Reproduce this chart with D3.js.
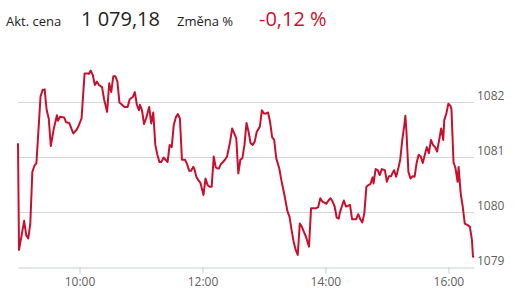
<!DOCTYPE html>
<html>
<head>
<meta charset="utf-8">
<script src="https://cdn.jsdelivr.net/npm/d3@7"></script>
<style>
  body { margin: 0; background: #fff; }
  svg { display: block; font-family: "Open Sans", sans-serif; }
</style>
</head>
<body>
<svg id="chart"></svg>
<script>
// intraday price

var times = ["9:00","9:01","9:06","9:08","9:10","9:12","9:14","9:16","9:18","9:22","9:24","9:26","9:28","9:30","9:32","9:35","9:38","9:39","9:41","9:45","9:47","9:50","9:52","9:54","9:57","9:59",
  "10:02","10:05","10:08","10:09","10:11","10:13","10:15","10:17","10:19","10:22","10:24","10:27","10:29","10:31","10:33","10:35","10:37","10:39","10:41","10:44","10:47","10:49","10:52","10:54","10:56","10:58","10:59",
  "11:01","11:03","11:05","11:08","11:10","11:12","11:14","11:16","11:18","11:20","11:22","11:24","11:26","11:28","11:30","11:32","11:34","11:36","11:38","11:40","11:43","11:45","11:47","11:49","11:51","11:52","11:54","11:56","11:58",
  "12:01","12:03","12:05","12:07","12:09","12:11","12:13","12:15","12:16","12:18","12:20","12:22","12:24","12:27","12:29","12:31","12:33","12:35","12:37","12:39","12:41","12:43","12:45","12:47","12:49","12:51","12:53","12:55","12:56","12:58",
  "13:00","13:02","13:04","13:06","13:08","13:10","13:12","13:15","13:17","13:20","13:23","13:25","13:27","13:29","13:31","13:33","13:35","13:37","13:39","13:41","13:43","13:44","13:46","13:48","13:51","13:53","13:55","13:57","13:59",
  "14:01","14:03","14:05","14:07","14:09","14:11","14:13","14:14","14:16","14:18","14:20","14:22","14:24","14:26","14:28","14:30","14:32","14:34","14:36","14:38","14:40","14:42","14:44","14:46","14:47","14:49","14:51","14:53","14:55","14:58",
  "15:00","15:02","15:04","15:05","15:07","15:09","15:11","15:13","15:15","15:17","15:18","15:19","15:21","15:23","15:25","15:27","15:29","15:31","15:33","15:35","15:37","15:39","15:41","15:43","15:45","15:47","15:49","15:51","15:53","15:55","15:56","15:58",
  "16:00","16:02","16:03","16:05","16:07","16:09","16:10","16:12","16:14","16:16","16:19","16:21","16:23","16:24","16:25"];

var prices = [1081.25,1079.31,1079.84,1079.58,1079.52,1079.79,1080.73,1080.84,1080.89,1082.10,1082.22,1082.23,1081.85,1081.70,1081.20,1081.52,1081.76,1081.66,1081.73,1081.72,1081.63,1081.62,1081.52,1081.43,1081.49,1081.56,
  1081.70,1082.52,1082.52,1082.51,1082.57,1082.49,1082.31,1082.37,1082.31,1082.27,1082.05,1081.82,1082.34,1082.18,1082.47,1082.47,1082.37,1081.99,1081.96,1081.91,1081.91,1082.05,1082.09,1082.18,1081.95,1081.85,1081.95,
  1081.85,1081.60,1081.70,1081.91,1081.61,1081.81,1081.22,1081.04,1080.91,1080.91,1080.99,1080.95,1080.91,1081.22,1081.18,1081.58,1081.72,1081.78,1081.70,1080.95,1080.95,1080.87,1080.75,1080.75,1080.82,1080.79,1080.64,1080.58,1080.53,
  1080.31,1080.61,1080.49,1080.46,1080.46,1081.01,1080.81,1080.79,1080.79,1080.87,1080.91,1080.95,1081.01,1081.28,1081.52,1081.43,1081.34,1080.70,1080.95,1080.98,1081.22,1081.62,1081.46,1081.25,1081.22,1081.28,1081.46,1081.52,1081.55,1081.85,
  1081.79,1081.79,1081.81,1081.64,1081.36,1081.31,1080.98,1080.79,1080.58,1080.31,1080.01,1079.91,1079.67,1079.46,1079.31,1079.22,1079.79,1079.73,1079.64,1079.55,1079.43,1079.37,1080.07,1080.07,1080.07,1080.09,1080.25,1080.19,1080.17,
  1080.15,1080.21,1080.25,1080.19,1080.10,1079.90,1079.88,1079.98,1080.10,1080.21,1080.10,1080.11,1080.13,1079.87,1079.87,1079.87,1079.96,1079.87,1079.81,1079.98,1080.46,1080.49,1080.51,1080.63,1080.52,1080.78,1080.76,1080.67,1080.78,1080.76,
  1080.55,1080.65,1080.65,1080.69,1080.76,1080.64,1080.78,1080.95,1081.31,1081.58,1081.75,1081.49,1080.73,1080.61,1080.65,1080.64,1080.89,1081.04,1081.01,1080.89,1081.04,1081.18,1081.07,1081.31,1081.22,1081.18,1081.10,1081.31,1081.52,1081.31,1081.67,1081.79,
  1081.97,1081.93,1081.87,1080.91,1080.79,1080.55,1080.82,1080.34,1080.10,1079.79,1079.76,1079.73,1079.49,1079.19,1079.18];

var yTicks = [1079, 1080, 1081, 1082];
var xTicks = ["10:00", "12:00", "14:00", "16:00"];
var timeRange = ["9:00", "16:25"];

var headerLabels = ["Akt. cena", "1 079,18", "Změna %", "-0,12 %"];

var width = 514;
var height = 301;
var plotLeft = 18;
var plotRight = 474;
var plotTop = 47;
var plotBottom = 267;

var red = "#c8102e";

var parseTime = d3.timeParse("%H:%M");

var data = times.map((t, i) => ({ time: parseTime(t), price: prices[i] }));

var svg = d3.select("#chart")
	.attr("width", width)
	.attr("height", height);

var Xscale = d3.scaleTime()
	.domain(timeRange.map(parseTime))
	.range([plotLeft, plotRight]);

var Yscale = d3.scaleLinear()
	.domain([1079, 1083])
	.range([plotBottom, plotTop]);

// gridlines
svg.append("g")
	.selectAll("line")
	.data(yTicks.filter(d => d !== 1079))
	.enter()
		.append("line")
		.attr("x1", plotLeft)
		.attr("x2", plotRight)
		.attr("y1", d => Yscale(d) + 0.5)
		.attr("y2", d => Yscale(d) + 0.5)
		.attr("stroke", "#d6d6d6")
		.attr("stroke-width", 1);

// y labels on the right, sitting just above the gridline
svg.append("g")
	.selectAll("text")
	.data(yTicks)
	.enter()
		.append("text")
		.attr("x", plotRight + 3)
		.attr("y", d => Yscale(d) - 2)
		.attr("font-size", "12px")
		.attr("fill", "#606060")
		.text(d => d);

// x axis
var xAxis = d3.axisBottom(Xscale)
	.tickValues(xTicks.map(parseTime))
	.tickFormat(d3.timeFormat("%H:%M"))
	.tickSize(6)
	.tickSizeOuter(0)
	.tickPadding(4);

var gx = svg.append("g")
	.attr("transform", "translate(0," + (plotBottom + 0.5) + ")")
	.call(xAxis);

gx.select(".domain").attr("stroke", "#c0cfe0");
gx.selectAll(".tick line").attr("stroke", "#c0cfe0");
gx.selectAll(".tick text")
	.attr("font-family", "Open Sans")
	.attr("font-size", "12px")
	.attr("fill", "#606060");

// price line
var line = d3.line()
	.x(d => Xscale(d.time))
	.y(d => Yscale(d.price));

svg.append("path")
	.datum(data)
	.attr("fill", "none")
	.attr("stroke", red)
	.attr("stroke-width", 2)
	.attr("stroke-linejoin", "round")
	.attr("d", line);

// header
var header = svg.append("text")
	.attr("y", 26);

header.append("tspan")
	.attr("x", 6)
	.attr("font-size", "13px")
	.attr("fill", "#222")
	.text(headerLabels[0]);

header.append("tspan")
	.attr("x", 81)
	.attr("font-size", "20px")
	.attr("fill", "#222")
	.text(headerLabels[1]);

header.append("tspan")
	.attr("x", 177)
	.attr("font-size", "13px")
	.attr("fill", "#222")
	.text(headerLabels[2]);

header.append("tspan")
	.attr("x", 259)
	.attr("font-size", "20px")
	.attr("fill", red)
	.text(headerLabels[3]);
</script>
</body>
</html>
